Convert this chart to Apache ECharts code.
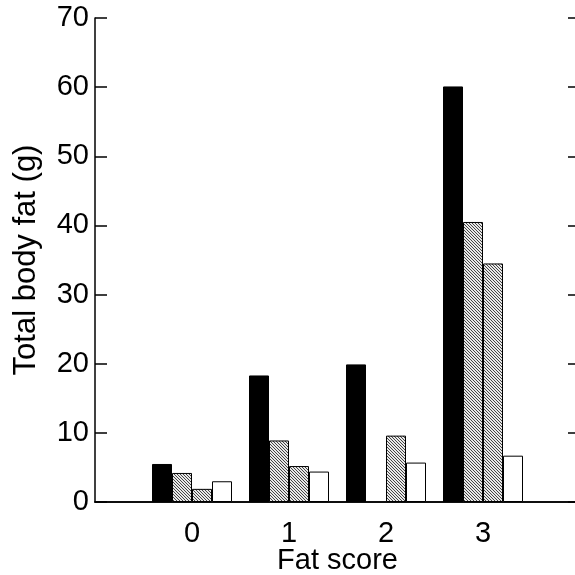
<!DOCTYPE html>
<html>
<head>
<meta charset="utf-8">
<script src="https://cdn.jsdelivr.net/npm/echarts@6/dist/echarts.min.js"></script>
<style>
html,body{margin:0;padding:0;background:#fff;}
#chart{width:575px;height:575px;}
</style>
</head>
<body>
<div id="chart"></div>
<script>
// ---- data ----
const categories = ['0', '1', '2', '3'];
const seriesBlack = [5.5, 18.3, 19.9, 60.1];
const seriesHatchA = [4.2, 8.9, null, 40.5];
const seriesHatchB = [1.9, 5.2, 9.6, 34.5];
const seriesWhite = [3.0, 4.4, 5.7, 6.7];
const yMin = 0, yMax = 70, yStep = 10;
const xTitle = 'Fat score';
const yTitle = 'Total body fat (g)';

// padded category list (empty slots at -1 and 4 so axis spans -1..4)
const axisCats = [' '].concat(categories, ['  ']);
function pad(arr) { return [null].concat(arr, [null]); }

function hatchPattern() {
  const c = document.createElement('canvas');
  c.width = 3; c.height = 3;
  const ctx = c.getContext('2d');
  ctx.fillStyle = '#e8e8e8';
  ctx.fillRect(0, 0, 3, 3);
  ctx.fillStyle = '#444444';
  for (let i = 0; i < 3; i++) ctx.fillRect(i, i, 1, 1);
  return { image: c, repeat: 'repeat' };
}

const FONT = 'Liberation Sans, Arial, Helvetica, sans-serif';
const chart = echarts.init(document.getElementById('chart'), null, { renderer: 'canvas' });

function barSeries(name, data, color) {
  return {
    name: name, type: 'bar', data: pad(data),
    barWidth: 20, barGap: '0%',
    itemStyle: { color: color, borderColor: '#000', borderWidth: 1 },
    animation: false
  };
}

chart.setOption({
  backgroundColor: '#fff',
  animation: false,
  grid: { left: 95, top: 18, width: 485, height: 484, containLabel: false, outerBoundsMode: 'none' },
  xAxis: [{
    type: 'category', data: axisCats, boundaryGap: false, position: 'bottom',
    axisLine: { show: true, lineStyle: { color: '#000', width: 1.5 } },
    axisTick: { show: false },
    axisLabel: { color: '#000', fontSize: 29, fontFamily: FONT, margin: 17 },
    splitLine: { show: false },
    name: xTitle, nameLocation: 'middle', nameGap: 44, nameMoveOverlap: false,
    nameTextStyle: { color: '#000', fontSize: 29, fontFamily: FONT }
  }, {
    type: 'category', data: axisCats, boundaryGap: false, position: 'top',
    axisLine: { show: true, lineStyle: { color: '#000', width: 1.5 } },
    axisTick: { show: false }, axisLabel: { show: false }, splitLine: { show: false }
  }],
  yAxis: [{
    type: 'value', min: yMin, max: yMax, interval: yStep, position: 'left',
    axisLine: { show: true, lineStyle: { color: '#000', width: 1.5 } },
    axisTick: { show: true, inside: true, length: 12, lineStyle: { color: '#000', width: 1.5 } },
    axisLabel: { color: '#000', fontSize: 29, fontFamily: FONT, margin: 6 },
    splitLine: { show: false },
    name: yTitle, nameLocation: 'middle', nameGap: 53, nameRotate: 90, nameMoveOverlap: false,
    nameTextStyle: { color: '#000', fontSize: 31, fontFamily: FONT }
  }, {
    type: 'value', min: yMin, max: yMax, interval: yStep, position: 'right',
    axisLine: { show: true, lineStyle: { color: '#000', width: 1.5 } },
    axisTick: { show: true, inside: true, length: 12, lineStyle: { color: '#000', width: 1.5 } },
    axisLabel: { show: false }, splitLine: { show: false }
  }],
  series: [
    barSeries('A', seriesBlack, '#000'),
    barSeries('B', seriesHatchA, hatchPattern()),
    barSeries('C', seriesHatchB, hatchPattern()),
    barSeries('D', seriesWhite, '#fff')
  ]
});
</script>
</body>
</html>
